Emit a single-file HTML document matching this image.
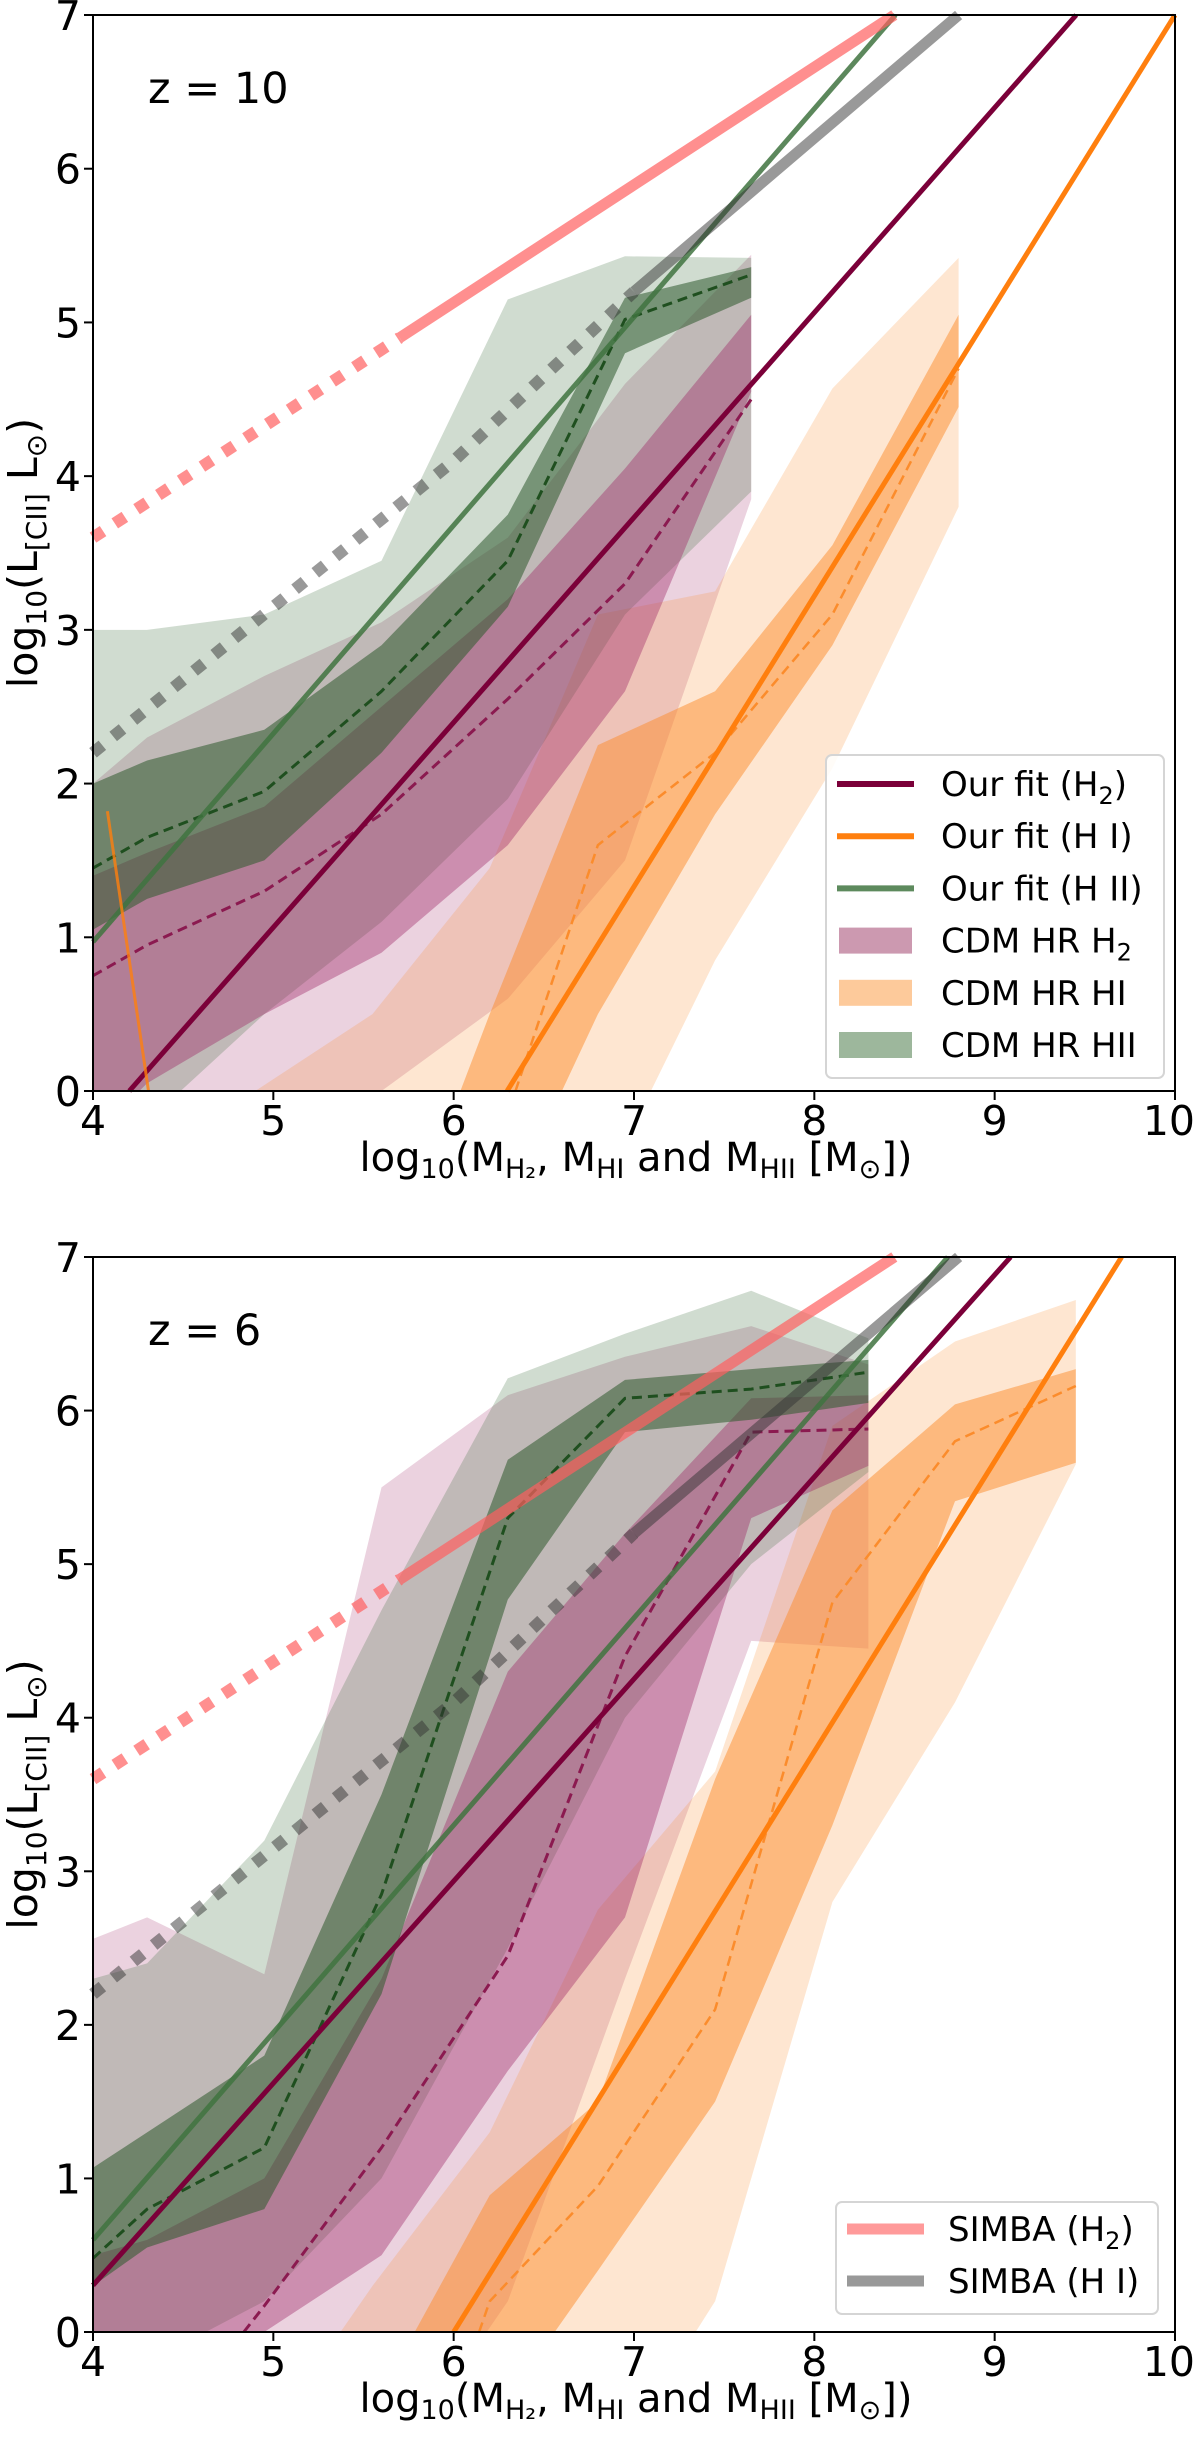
<!DOCTYPE html>
<html><head><meta charset="utf-8"><style>
html,body{margin:0;padding:0;background:#fff;overflow:hidden;}
svg{display:block;font-family:"DejaVu Sans","Liberation Sans",sans-serif;}
</style></head><body>
<svg id="fig" width="1200" height="2439" viewBox="0 0 1200 2439" xmlns="http://www.w3.org/2000/svg"></svg>
<script>
// ===== z = 10 panel data =====
const xsMol10 = [4.0, 4.3, 4.95, 5.6, 6.3, 6.95, 7.65];
const h2Med10 = [0.75, 0.95, 1.3, 1.8, 2.55, 3.3, 4.5];
const h2InLo10 = [-0.3, 0.05, 0.5, 0.9, 1.6, 2.6, 4.55];
const h2InHi10 = [1.4, 1.55, 1.85, 2.5, 3.2, 4.05, 5.05];
const h2OutLo10 = [-1.5, -1.0, -0.5, 0.0, 0.6, 1.5, 3.85];
const h2OutHi10 = [2.0, 2.3, 2.7, 3.05, 3.6, 4.6, 5.44];
const hiiMed10 = [1.45, 1.65, 1.95, 2.6, 3.45, 5.02, 5.31];
const hiiInLo10 = [1.05, 1.25, 1.5, 2.2, 3.15, 4.8, 5.16];
const hiiInHi10 = [2.0, 2.15, 2.35, 2.9, 3.75, 5.16, 5.36];
const hiiOutLo10 = [-0.5, -0.2, 0.5, 1.1, 1.9, 3.1, 3.9];
const hiiOutHi10 = [3.0, 3.0, 3.1, 3.45, 5.15, 5.43, 5.42];
const xsHI10 = [4.9, 5.55, 6.2, 6.8, 7.45, 8.1, 8.8];
const hiMed10 = [-3, -2, -0.5, 1.6, 2.2, 3.1, 4.7];
const hiInLo10 = [-3, -2, -1, 0.5, 1.8, 2.9, 4.45];
const hiInHi10 = [-3, -1.5, 0.5, 2.25, 2.6, 3.55, 5.05];
const hiOutLo10 = [-4, -3, -2, -0.7, 0.85, 2.1, 3.8];
const hiOutHi10 = [0.0, 0.5, 1.45, 3.1, 3.25, 4.57, 5.42];
const fitSlope10 = [1.333, 1.89, 1.355];
const fitIcpt10 = [-5.6, -11.9, -4.45];
const oddLineX10 = [4.08, 4.32];
const oddLineY10 = [1.82, -0.1];

// ===== z = 6 panel data =====
const xsMol6 = [4.0, 4.3, 4.95, 5.6, 6.3, 6.95, 7.65, 8.3];
const h2Med6 = [-1.5, -0.8, 0.17, 1.2, 2.45, 4.4, 5.86, 5.88];
const h2InLo6 = [-1.0, -0.5, 0.0, 0.5, 1.7, 2.7, 5.3, 5.64];
const h2InHi6 = [0.5, 0.6, 1.0, 2.3, 4.3, 5.2, 6.08, 6.1];
const h2OutLo6 = [-3, -2.5, -2, -1, 0.2, 2.3, 4.5, 4.45];
const h2OutHi6 = [2.56, 2.7, 2.33, 5.5, 6.1, 6.35, 6.55, 6.3];
const hiiMed6 = [0.48, 0.8, 1.2, 2.85, 5.3, 6.08, 6.14, 6.25];
const hiiInLo6 = [0.3, 0.55, 0.8, 2.2, 4.77, 5.86, 5.94, 6.05];
const hiiInHi6 = [1.07, 1.3, 1.8, 3.5, 5.68, 6.2, 6.27, 6.33];
const hiiOutLo6 = [-0.3, -0.2, 0.2, 1.0, 2.5, 4.0, 5.0, 5.6];
const hiiOutHi6 = [2.3, 2.4, 3.2, 4.7, 6.21, 6.5, 6.78, 6.47];
const xsHI6 = [4.9, 5.55, 6.2, 6.8, 7.45, 8.1, 8.78, 9.45];
const hiMed6 = [-3, -2, 0.2, 0.95, 2.1, 4.75, 5.8, 6.16];
const hiInLo6 = [-3, -2, -0.6, 0.4, 1.5, 3.3, 5.41, 5.66];
const hiInHi6 = [-2, -0.5, 0.89, 1.5, 3.6, 5.35, 6.04, 6.27];
const hiOutLo6 = [-4, -3, -2, -1, 0.2, 2.8, 4.1, 5.65];
const hiOutHi6 = [-0.8, 0.3, 1.3, 2.75, 3.65, 5.9, 6.45, 6.72];
const fitSlope6 = [1.316, 1.89, 1.35];
const fitIcpt6 = [-4.96, -11.34, -4.8];

// ===== SIMBA reference relations (same in both panels) =====
const simbaH2DotX = [4.0, 5.7];
const simbaH2DotY = [3.6, 4.9];
const simbaH2SolX = [5.7, 8.6];
const simbaH2SolY = [4.9, 7.12];
const simbaHIDotX = [4.0, 5.0, 6.0, 7.0];
const simbaHIDotY = [2.2, 3.15, 4.1, 5.2];
const simbaHISolX = [7.0, 8.0, 9.0];
const simbaHISolY = [5.2, 6.2, 7.2];

const xTicks = [4, 5, 6, 7, 8, 9, 10];
const yTicks = [0, 1, 2, 3, 4, 5, 6, 7];

const NS = "http://www.w3.org/2000/svg";
const svg = document.getElementById('fig');
const X0 = 93, X1 = 1175;
function sx(v) { return X0 + (v - 4) * (X1 - X0) / 6; }
function mk(tag, attrs, parent) {
  const el = document.createElementNS(NS, tag);
  for (const k in attrs) el.setAttribute(k, attrs[k]);
  (parent || svg).appendChild(el);
  return el;
}
// Sutherland-Hodgman clip of polygon (data coords) to a half-plane
function clipHalf(pts, inside, inter) {
  const out = [];
  for (let i = 0; i < pts.length; i++) {
    const a = pts[i], b = pts[(i + 1) % pts.length];
    const ia = inside(a), ib = inside(b);
    if (ia) out.push(a);
    if (ia !== ib) out.push(inter(a, b));
  }
  return out;
}
function interY(a, b, yv) { const t = (yv - a[1]) / (b[1] - a[1]); return [a[0] + t * (b[0] - a[0]), yv]; }
function interX(a, b, xv) { const t = (xv - a[0]) / (b[0] - a[0]); return [xv, a[1] + t * (b[1] - a[1])]; }
function clipPoly(pts) {
  pts = clipHalf(pts, p => p[1] >= 0, (a, b) => interY(a, b, 0));
  pts = clipHalf(pts, p => p[1] <= 7, (a, b) => interY(a, b, 7));
  pts = clipHalf(pts, p => p[0] >= 4, (a, b) => interX(a, b, 4));
  pts = clipHalf(pts, p => p[0] <= 10, (a, b) => interX(a, b, 10));
  return pts;
}
// clip a single segment to the data box; returns null or [p,q]
function clipSeg(a, b) {
  let t0 = 0, t1 = 1;
  const dx = b[0] - a[0], dy = b[1] - a[1];
  const P = [-dx, dx, -dy, dy], Q = [a[0] - 4, 10 - a[0], a[1] - 0, 7 - a[1]];
  for (let i = 0; i < 4; i++) {
    if (P[i] === 0) { if (Q[i] < 0) return null; continue; }
    const r = Q[i] / P[i];
    if (P[i] < 0) { if (r > t1) return null; if (r > t0) t0 = r; }
    else { if (r < t0) return null; if (r < t1) t1 = r; }
  }
  return [[a[0] + t0 * dx, a[1] + t0 * dy], [a[0] + t1 * dx, a[1] + t1 * dy]];
}

function drawPanel(p) {
  const yT = p.top, yB = p.bot;
  const sy = v => yB - v * (yB - yT) / 7;
  const g = mk('g', {});
  
  
  const plot = mk('g', {}, g);
  
  

  function band(xs, lo, hi, color, op, name) {
    let pts = [];
    xs.forEach((x, i) => pts.push([x, hi[i]]));
    for (let i = xs.length - 1; i >= 0; i--) pts.push([xs[i], lo[i]]);
    pts = clipPoly(pts);
    if (pts.length < 3) return;
    const d = pts.map((q, i) => (i ? 'L' : 'M') + sx(q[0]).toFixed(1) + ',' + sy(q[1]).toFixed(1)).join('') + 'Z';
    const el = mk('path', {d: d, fill: color, 'fill-opacity': op, stroke: 'none'}, plot);
    
    
  }
  function line(xs, ys, attrs, name) {
    // build clipped runs
    const runs = [];
    let cur = null;
    for (let i = 0; i < xs.length - 1; i++) {
      const s = clipSeg([xs[i], ys[i]], [xs[i + 1], ys[i + 1]]);
      if (!s) { cur = null; continue; }
      if (cur && Math.abs(cur[cur.length - 1][0] - s[0][0]) < 1e-9 && Math.abs(cur[cur.length - 1][1] - s[0][1]) < 1e-9) {
        cur.push(s[1]);
      } else { cur = [s[0], s[1]]; runs.push(cur); }
    }
    if (!runs.length) return;
    const d = runs.map(r => r.map((q, i) => (i ? 'L' : 'M') + sx(q[0]).toFixed(1) + ',' + sy(q[1]).toFixed(1)).join('')).join('');
    const el = mk('path', Object.assign({d: d, fill: 'none'}, attrs), plot);
    
    
  }

  band(p.xsMol, p.h2OutLo, p.h2OutHi, '#9c2060', 0.2, 'h2-outer-band');
  band(p.xsHI, p.hiOutLo, p.hiOutHi, '#fb8c2c', 0.22, 'hi-outer-band');
  band(p.xsMol, p.hiiOutLo, p.hiiOutHi, '#336633', 0.23, 'hii-outer-band');
  band(p.xsMol, p.h2InLo, p.h2InHi, '#9c2060', 0.38, 'h2-inner-band');
  band(p.xsHI, p.hiInLo, p.hiInHi, '#fb8c2c', 0.5, 'hi-inner-band');
  band(p.xsMol, p.hiiInLo, p.hiiInHi, '#2e5a2e', 0.55, 'hii-inner-band');
  line(p.xsMol, p.h2Med, {stroke: '#8b1a50', 'stroke-width': 3, 'stroke-dasharray': '10 6'}, 'h2-median-line');
  line(p.xsHI, p.hiMed, {stroke: '#fb8c2c', 'stroke-width': 2.5, 'stroke-dasharray': '10 6'}, 'hi-median-line');
  line(p.xsMol, p.hiiMed, {stroke: '#1f4f1f', 'stroke-width': 3, 'stroke-dasharray': '10 6'}, 'hii-median-line');
  const fitCol = ['#7b0039', '#ff7f0e', '#3f733f'];
  const fitOp = [1, 1, 0.85];
  const fitNames = ['fit-line-h2', 'fit-line-hi', 'fit-line-hii'];
  for (let i = 0; i < 3; i++) {
    const a = p.fitSlope[i], b = p.fitIcpt[i];
    line([3.5, 10.5], [a * 3.5 + b, a * 10.5 + b], {stroke: fitCol[i], 'stroke-width': 5, 'stroke-opacity': fitOp[i]}, fitNames[i]);
  }
  if (p.oddX) line(p.oddX, p.oddY, {stroke: '#ff7f0e', 'stroke-width': 3, 'stroke-opacity': 0.8}, 'hi-steep-line');
  line(simbaH2DotX, simbaH2DotY, {stroke: '#ff6060', 'stroke-opacity': 0.7, 'stroke-width': 12, 'stroke-dasharray': '12 14'}, 'simba-h2-dotted');
  line(simbaH2SolX, simbaH2SolY, {stroke: '#ff6060', 'stroke-opacity': 0.7, 'stroke-width': 11}, 'simba-h2-line');
  line(simbaHIDotX, simbaHIDotY, {stroke: '#333333', 'stroke-opacity': 0.5, 'stroke-width': 12, 'stroke-dasharray': '12 14'}, 'simba-hi-dotted');
  line(simbaHISolX, simbaHISolY, {stroke: '#333333', 'stroke-opacity': 0.5, 'stroke-width': 11}, 'simba-hi-line');

  const fr = mk('rect', {x: X0, y: yT, width: X1 - X0, height: yB - yT, fill: 'none', stroke: '#000', 'stroke-width': 2}, g);
  
  
  xTicks.forEach(t => {
    const tk = mk('line', {x1: sx(t), x2: sx(t), y1: yB, y2: yB + 9, stroke: '#000', 'stroke-width': 2}, g);
    
    
    const lb = mk('text', {x: sx(t), y: yB + 44, 'font-size': 41, 'text-anchor': t === 10 ? 'end' : 'middle', dx: t === 10 ? 20 : 0}, g);
    
    
    lb.textContent = String(t);
  });
  yTicks.forEach(t => {
    const tk = mk('line', {x1: X0 - 9, x2: X0, y1: sy(t), y2: sy(t), stroke: '#000', 'stroke-width': 2}, g);
    
    
    const lb = mk('text', {x: 81, y: sy(t) + 15, 'font-size': 41, 'text-anchor': 'end'}, g);
    
    
    lb.textContent = String(t);
  });
  const zl = mk('text', {x: 148, y: yT + 88, 'font-size': 43}, g);
  
  
  zl.textContent = p.zText;

  const xt = mk('text', {x: 636, y: yB + 80, 'font-size': 40, 'text-anchor': 'middle'}, g);
  
  
  xt.innerHTML = 'log<tspan font-size="27" dy="7">10</tspan><tspan dy="-7">(M</tspan><tspan font-size="27" dy="7">H₂</tspan><tspan dy="-7">, M</tspan><tspan font-size="27" dy="7">HI</tspan><tspan dy="-7"> and M</tspan><tspan font-size="27" dy="7">HII</tspan><tspan dy="-7"> [M</tspan><tspan font-size="27" dy="7">⊙</tspan><tspan dy="-7">])</tspan>';
  const cy = (yT + yB) / 2;
  const yt = mk('text', {x: 0, y: 0, 'font-size': 41, 'text-anchor': 'middle', transform: 'translate(37,' + cy + ') rotate(-90)'}, g);
  
  
  yt.innerHTML = 'log<tspan font-size="28" dy="9">10</tspan><tspan dy="-9">(L</tspan><tspan font-size="28" dy="9">[CII]</tspan><tspan dy="-9"> L</tspan><tspan font-size="28" dy="9">⊙</tspan><tspan dy="-9">)</tspan>';

  const lg = mk('g', {}, g);
  
  
  const L = p.legend;
  mk('rect', {x: L.x, y: L.y, width: L.w, height: L.h, rx: 6, fill: '#fff', 'fill-opacity': 0.85, stroke: '#d5d5d5', 'stroke-width': 2}, lg);
  L.items.forEach((it, i) => {
    const ry = L.y + L.first + i * L.step;
    const entry = mk('g', {}, lg);
    
    
    if (it.kind === 'line') {
      mk('line', {x1: L.x + 11, x2: L.x + 88, y1: ry, y2: ry, stroke: it.color, 'stroke-width': it.lw}, entry);
    } else {
      mk('rect', {x: L.x + 13, y: ry - 13, width: 73, height: 26, fill: it.color}, entry);
    }
    const tx = mk('text', {x: L.x + L.tx, y: ry + 12, 'font-size': 34}, entry);
    tx.innerHTML = it.label;
  });
}

drawPanel({
  name: 'panel-z10', top: 15, bot: 1091, zText: 'z = 10',
  xsMol: xsMol10, xsHI: xsHI10,
  h2Med: h2Med10, h2InLo: h2InLo10, h2InHi: h2InHi10, h2OutLo: h2OutLo10, h2OutHi: h2OutHi10,
  hiiMed: hiiMed10, hiiInLo: hiiInLo10, hiiInHi: hiiInHi10, hiiOutLo: hiiOutLo10, hiiOutHi: hiiOutHi10,
  hiMed: hiMed10, hiInLo: hiInLo10, hiInHi: hiInHi10, hiOutLo: hiOutLo10, hiOutHi: hiOutHi10,
  fitSlope: fitSlope10, fitIcpt: fitIcpt10, oddX: oddLineX10, oddY: oddLineY10,
  legend: {x: 826, y: 755, w: 338, h: 323, first: 29, step: 52.2, tx: 115, items: [
    {kind: 'line', color: '#7b0039', lw: 6, label: 'Our fit (H<tspan font-size="24" dy="8">2</tspan><tspan dy="-8">)</tspan>'},
    {kind: 'line', color: '#ff7f0e', lw: 6, label: 'Our fit (H I)'},
    {kind: 'line', color: '#5d8a5d', lw: 6, label: 'Our fit (H II)'},
    {kind: 'patch', color: '#cc99b0', label: 'CDM HR H<tspan font-size="24" dy="8">2</tspan>'},
    {kind: 'patch', color: '#fdca9b', label: 'CDM HR HI'},
    {kind: 'patch', color: '#9db79c', label: 'CDM HR HII'}
  ]}
});

drawPanel({
  name: 'panel-z6', top: 1257, bot: 2332, zText: 'z = 6',
  xsMol: xsMol6, xsHI: xsHI6,
  h2Med: h2Med6, h2InLo: h2InLo6, h2InHi: h2InHi6, h2OutLo: h2OutLo6, h2OutHi: h2OutHi6,
  hiiMed: hiiMed6, hiiInLo: hiiInLo6, hiiInHi: hiiInHi6, hiiOutLo: hiiOutLo6, hiiOutHi: hiiOutHi6,
  hiMed: hiMed6, hiInLo: hiInLo6, hiInHi: hiInHi6, hiOutLo: hiOutLo6, hiOutHi: hiOutHi6,
  fitSlope: fitSlope6, fitIcpt: fitIcpt6, oddX: null, oddY: null,
  legend: {x: 836, y: 2202, w: 322, h: 112, first: 27, step: 52, tx: 112, items: [
    {kind: 'line', color: '#ff9a9a', lw: 11, label: 'SIMBA (H<tspan font-size="24" dy="8">2</tspan><tspan dy="-8">)</tspan>'},
    {kind: 'line', color: '#999999', lw: 11, label: 'SIMBA (H I)'}
  ]}
});
</script>
</body></html>
